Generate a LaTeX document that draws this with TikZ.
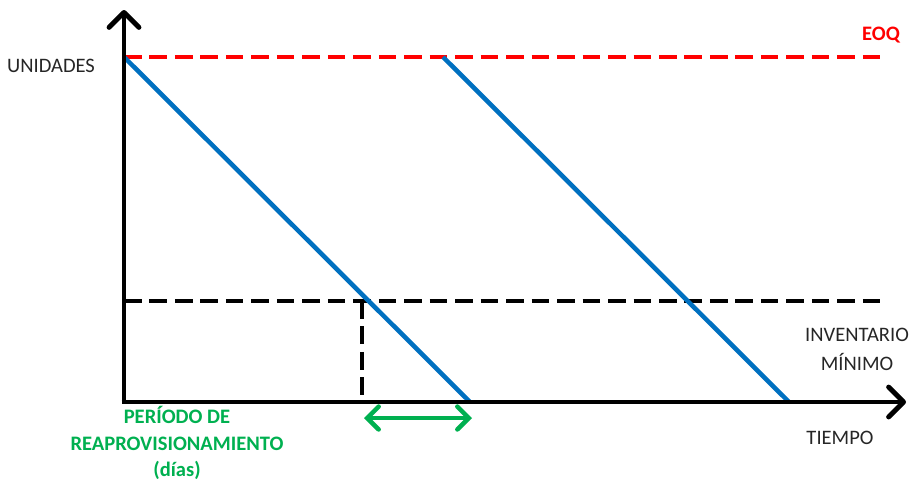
\documentclass[tikz,border=0pt]{standalone}
\usepackage{fontspec}
\setmainfont{Carlito}
\usetikzlibrary{arrows.meta, positioning}
\definecolor{cblue}{HTML}{0070C0}
\definecolor{cred}{HTML}{FF0000}
\definecolor{cgreen}{HTML}{00B050}
\definecolor{ctext}{HTML}{262626}
\tikzset{
  every picture/.style={font=\normalsize, line width=2.5pt},
  axis/.style={-{Straight Barb[length=8.5pt, width=17pt, line cap=round, line join=round]}, draw=black, line width=2.8pt},
  level/.style={draw=#1, dash pattern=on 10pt off 4.5pt, line width=2.6pt},
  level/.default=black,
  stock/.style={draw=cblue, line width=2.6pt},
  label/.style={font=\fontsize{11.7}{12}\selectfont, text=ctext, align=center, inner sep=0pt},
  glabel/.style={font=\fontsize{11.7}{15.3}\selectfont\bfseries, text=cgreen, align=center, inner sep=0pt},
}

\begin{document}
\begin{tikzpicture}[x=0.02cm, y=-0.02cm]
  \useasboundingbox (0,0) rectangle (918,485);
  % axes
  \coordinate (o) at (124,402);
  \coordinate (ytop) at (124,10);
  \coordinate (xend) at (906,402);
  \coordinate (eoqa) at (124,57);
  \coordinate (eoqb) at (888,57);
  \coordinate (mina) at (124,301);
  \coordinate (minb) at (888,301);
  \coordinate (cut) at (362,301);
  \coordinate (cutd) at (362,402);
  \coordinate (s1a) at (124,57);
  \coordinate (s1b) at (470,402);
  \coordinate (s2a) at (443,57);
  \coordinate (s2b) at (789,402);
  \draw[level=cred] (eoqa) -- (eoqb);
  \draw[level] (mina) -- (minb);
  \draw[level] (cut) -- (cutd);
  \draw[stock] (s1a) -- (s1b);
  \draw[stock] (s2a) -- (s2b);
  \draw[axis] (o) -- (ytop);
  \draw[axis] ([xshift=-1.4pt]o) -- (xend);
  % lead time
  \coordinate (lta) at (364,418);
  \coordinate (ltb) at (472,418);
  \draw[{Straight Barb[length=6.5pt, width=13pt, line cap=round]}-{Straight Barb[length=6.5pt, width=13pt, line cap=round]}, draw=cgreen, line width=2.6pt] (lta) -- (ltb);
  % labels
  \node[label] (unid) at (51,66) {UNIDADES};
  \node[label, font=\fontsize{11.7}{12}\selectfont\bfseries, text=cred] (eoq) at (881,35) {EOQ};
  \node[label, font=\fontsize{11.7}{16.5}\selectfont] (invmin) at (857,349) {INVENTARIO\\MÍNIMO};
  \node[label] (tiempo) at (840,438) {TIEMPO};
  \node[glabel] (periodo) at (177,443) {PERÍODO DE\\REAPROVISIONAMIENTO\\(días)};
\end{tikzpicture}
\end{document}
